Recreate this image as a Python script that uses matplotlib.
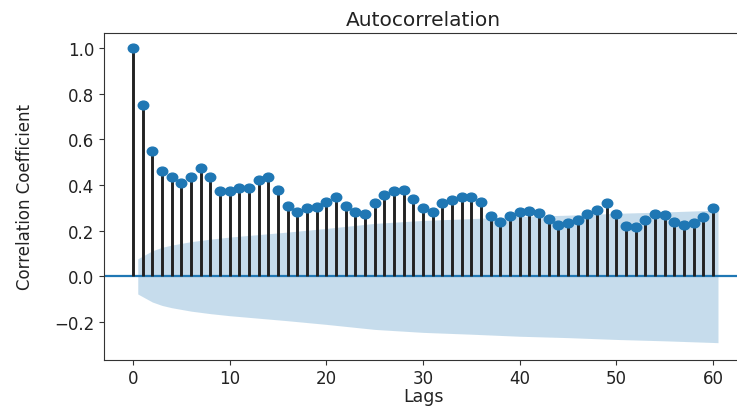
import matplotlib.pyplot as plt
import numpy as np
from matplotlib.markers import MarkerStyle
from matplotlib.transforms import Affine2D

lags = np.arange(61)
acf_vals = [1.0, 0.75, 0.548, 0.46, 0.434, 0.41, 0.434, 0.474, 0.434, 0.373,
            0.373, 0.386, 0.386, 0.42, 0.434, 0.377, 0.307, 0.28, 0.298, 0.303,
            0.325, 0.347, 0.307, 0.28, 0.272, 0.32, 0.356, 0.373, 0.377, 0.338,
            0.298, 0.28, 0.32, 0.333, 0.347, 0.347, 0.325, 0.263, 0.24, 0.263,
            0.28, 0.285, 0.276, 0.25, 0.224, 0.232, 0.246, 0.272, 0.29, 0.32,
            0.272, 0.22, 0.215, 0.246, 0.272, 0.267, 0.24, 0.224, 0.232, 0.259,
            0.298]

# confidence band half-width at these lags
band_lags = [0.5, 2, 3, 4, 6, 8, 10, 13, 16, 20, 25, 30, 35, 40, 45, 50, 55, 60.5]
band_half = [0.077, 0.112, 0.127, 0.137, 0.152, 0.163, 0.172, 0.183, 0.194,
             0.21, 0.232, 0.245, 0.253, 0.262, 0.268, 0.276, 0.282, 0.29]

fig = plt.figure(figsize=(7.37, 4.10), dpi=100)
ax = fig.add_axes([0.141, 0.12, 0.866, 0.797])

band_half = np.array(band_half)
ax.fill_between(band_lags, -band_half, band_half, color='C0', alpha=0.25, lw=0)
ax.axhline(0, color='C0', lw=1.6)
ax.vlines(lags, 0, acf_vals, colors='#222222', lw=2.1)
# the source picture is a bit stretched sideways, so the dots are wide
dot = MarkerStyle('o', transform=Affine2D().scale(1.2, 1.0))
ax.plot(lags, acf_vals, linestyle='none', marker=dot, color='C0', markersize=6.3)

ax.set_xlim(-3, 63)
ax.set_ylim(-0.365, 1.065)
ax.set_xticks([0, 10, 20, 30, 40, 50, 60])
ax.set_yticks([-0.2, 0.0, 0.2, 0.4, 0.6, 0.8, 1.0])
ax.tick_params(labelsize=12, colors='#333333', labelcolor='#222222')
ax.tick_params(axis='x', pad=3)
for s in ax.spines.values():
    s.set_color('#333333')
ax.set_title('Autocorrelation', fontsize=14.5, color='#222222')
ax.set_xlabel('Lags', fontsize=12.5, color='#222222', labelpad=0)
ax.set_ylabel('Correlation Coefficient', fontsize=12, color='#222222')
ax.yaxis.set_label_coords(-0.11, 0.5)

fig.savefig('out.png', dpi=100)
